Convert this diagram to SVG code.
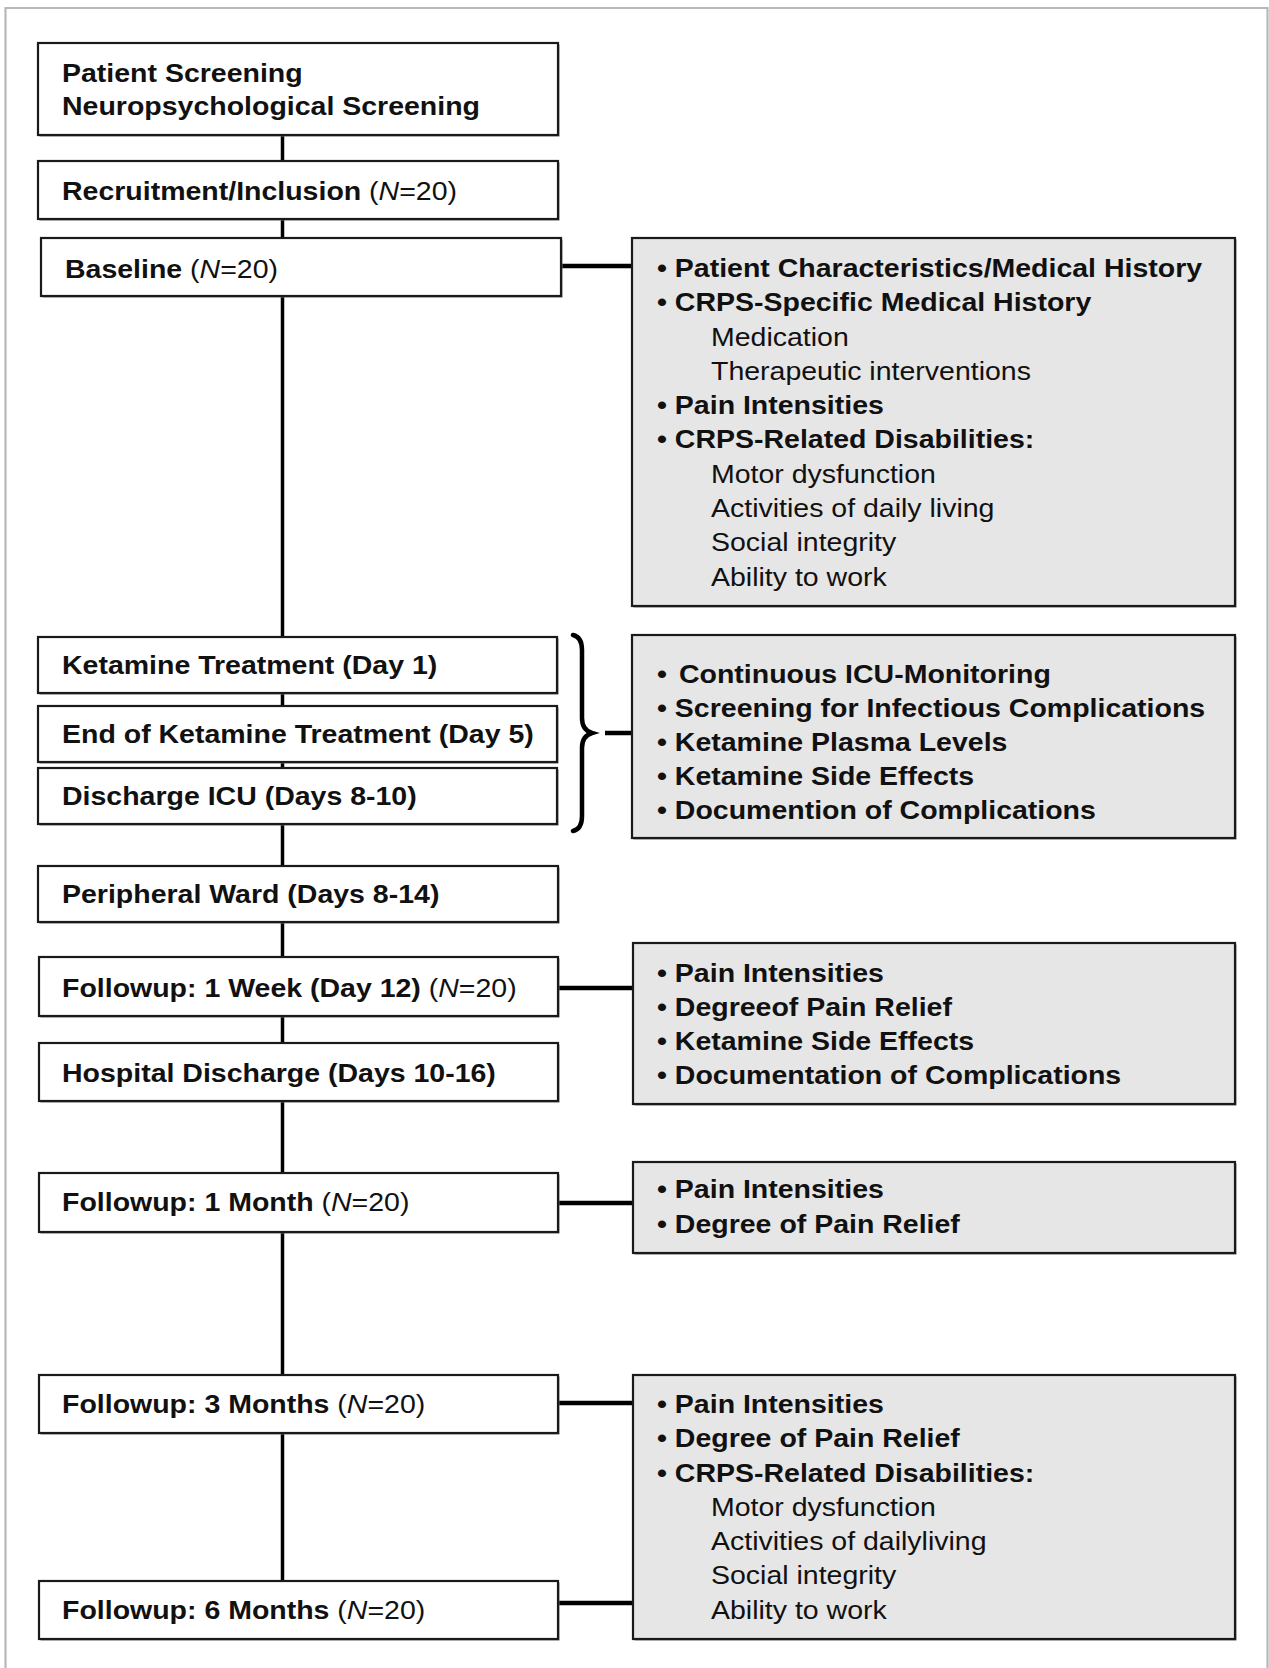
<svg xmlns="http://www.w3.org/2000/svg" width="1269" height="1668" viewBox="0 0 1269 1668">
<defs>
<style>
.t{font-family:"Liberation Sans",Arial,Helvetica,sans-serif;font-size:25px;fill:#111}
.b{font-weight:bold}
.i{font-style:italic}
.box{fill:#fff;stroke:#1a1a1a;stroke-width:2.2}
.gbox{fill:#e6e6e6;stroke:#1a1a1a;stroke-width:2.2}
.sh{fill:#7a7a7a}
.ln{stroke:#000;stroke-width:3.5;fill:none}
.hl{stroke:#000;stroke-width:4.5;fill:none}
</style>
</defs>
<rect width="1269" height="1668" fill="#fff"/>
<path d="M5.5,1668 V8 H1267.5 V1668" fill="none" stroke="#b8b8b8" stroke-width="2.2"/>

<g id="connectors">
<line class="ln" x1="282.5" y1="135" x2="282.5" y2="1581"/>
<line class="hl" x1="561" y1="266" x2="632" y2="266"/>
<path d="M573,635 Q582,637 582,650 L582,718 Q582,730 592,733 Q582,736 582,748 L582,816 Q582,829 573,831" fill="none" stroke="#000" stroke-width="4.5" stroke-linecap="round"/>
<line class="hl" x1="605" y1="733" x2="633" y2="733"/>
<line class="hl" x1="558" y1="988" x2="633" y2="988"/>
<line class="hl" x1="558" y1="1203" x2="633" y2="1203"/>
<line class="hl" x1="558" y1="1403" x2="633" y2="1403"/>
<line class="hl" x1="558" y1="1603" x2="633" y2="1603"/>
</g>

<g id="n-screening"><rect class="sh" x="39.5" y="44.5" width="520" height="92"/><rect class="box" x="38" y="43" width="520" height="92"/>
<g transform="scale(1.14 1)"><text class="t b" x="54.4" y="82">Patient Screening</text><text class="t b" x="54.4" y="115">Neuropsychological Screening</text></g></g>

<g id="n-recruitment"><rect class="sh" x="39.5" y="162.5" width="520" height="58"/><rect class="box" x="38" y="161" width="520" height="58"/>
<g transform="scale(1.14 1)"><text class="t" x="54.4" y="200"><tspan class="b">Recruitment/Inclusion</tspan> (<tspan class="i">N</tspan>=20)</text></g></g>

<g id="n-baseline"><rect class="sh" x="42.5" y="239.5" width="520" height="58"/><rect class="box" x="41" y="238" width="520" height="58"/>
<g transform="scale(1.14 1)"><text class="t" x="57" y="278"><tspan class="b">Baseline</tspan> (<tspan class="i">N</tspan>=20)</text></g></g>

<g id="n-ketamine"><rect class="sh" x="39.5" y="638.5" width="519" height="56"/><rect class="box" x="38" y="637" width="519" height="56"/>
<g transform="scale(1.14 1)"><text class="t b" x="54.4" y="674">Ketamine Treatment (Day 1)</text></g></g>

<g id="n-end-ketamine"><rect class="sh" x="39.5" y="707.5" width="519" height="56"/><rect class="box" x="38" y="706" width="519" height="56"/>
<g transform="scale(1.14 1)"><text class="t b" x="54.4" y="743">End of Ketamine Treatment (Day 5)</text></g></g>

<g id="n-discharge-icu"><rect class="sh" x="39.5" y="769.5" width="519" height="56"/><rect class="box" x="38" y="768" width="519" height="56"/>
<g transform="scale(1.14 1)"><text class="t b" x="54.4" y="805">Discharge ICU (Days 8-10)</text></g></g>

<g id="n-peripheral"><rect class="sh" x="39.5" y="867.5" width="520" height="56"/><rect class="box" x="38" y="866" width="520" height="56"/>
<g transform="scale(1.14 1)"><text class="t b" x="54.4" y="903">Peripheral Ward (Days 8-14)</text></g></g>

<g id="n-fu-1week"><rect class="sh" x="40.5" y="958.5" width="519" height="59"/><rect class="box" x="39" y="957" width="519" height="59"/>
<g transform="scale(1.14 1)"><text class="t" x="54.4" y="997"><tspan class="b">Followup: 1 Week (Day 12)</tspan> (<tspan class="i">N</tspan>=20)</text></g></g>

<g id="n-hospital-discharge"><rect class="sh" x="40.5" y="1044.5" width="519" height="58"/><rect class="box" x="39" y="1043" width="519" height="58"/>
<g transform="scale(1.14 1)"><text class="t b" x="54.4" y="1082">Hospital Discharge (Days 10-16)</text></g></g>

<g id="n-fu-1month"><rect class="sh" x="40.5" y="1174.5" width="519" height="59"/><rect class="box" x="39" y="1173" width="519" height="59"/>
<g transform="scale(1.14 1)"><text class="t" x="54.4" y="1211"><tspan class="b">Followup: 1 Month</tspan> (<tspan class="i">N</tspan>=20)</text></g></g>

<g id="n-fu-3months"><rect class="sh" x="40.5" y="1376.5" width="519" height="58"/><rect class="box" x="39" y="1375" width="519" height="58"/>
<g transform="scale(1.14 1)"><text class="t" x="54.4" y="1413"><tspan class="b">Followup: 3 Months</tspan> (<tspan class="i">N</tspan>=20)</text></g></g>

<g id="n-fu-6months"><rect class="sh" x="40.5" y="1582.5" width="519" height="58"/><rect class="box" x="39" y="1581" width="519" height="58"/>
<g transform="scale(1.14 1)"><text class="t" x="54.4" y="1619"><tspan class="b">Followup: 6 Months</tspan> (<tspan class="i">N</tspan>=20)</text></g></g>

<g id="r-baseline"><rect class="sh" x="633.5" y="239.5" width="603" height="368"/><rect class="gbox" x="632" y="238" width="603" height="368"/>
<g transform="scale(1.14 1)">
<text class="t b" x="576.3" y="277">• Patient Characteristics/Medical History</text>
<text class="t b" x="576.3" y="311.3">• CRPS-Specific Medical History</text>
<text class="t" x="623.7" y="345.6">Medication</text>
<text class="t" x="623.7" y="379.9">Therapeutic interventions</text>
<text class="t b" x="576.3" y="414.2">• Pain Intensities</text>
<text class="t b" x="576.3" y="448.5">• CRPS-Related Disabilities:</text>
<text class="t" x="623.7" y="482.8">Motor dysfunction</text>
<text class="t" x="623.7" y="517.1">Activities of daily living</text>
<text class="t" x="623.7" y="551.4">Social integrity</text>
<text class="t" x="623.7" y="585.7">Ability to work</text>
</g></g>

<g id="r-icu"><rect class="sh" x="633.5" y="636.5" width="603" height="203"/><rect class="gbox" x="632" y="635" width="603" height="203"/>
<g transform="scale(1.14 1)">
<text class="t b" x="576.3" y="683">•<tspan x="595.6">Continuous ICU-Monitoring</tspan></text>
<text class="t b" x="576.3" y="717">• Screening for Infectious Complications</text>
<text class="t b" x="576.3" y="751">• Ketamine Plasma Levels</text>
<text class="t b" x="576.3" y="785">• Ketamine Side Effects</text>
<text class="t b" x="576.3" y="819">• Documention of Complications</text>
</g></g>

<g id="r-1week"><rect class="sh" x="634.5" y="944.5" width="602" height="161"/><rect class="gbox" x="633" y="943" width="602" height="161"/>
<g transform="scale(1.14 1)">
<text class="t b" x="576.3" y="982">• Pain Intensities</text>
<text class="t b" x="576.3" y="1016">• Degreeof Pain Relief</text>
<text class="t b" x="576.3" y="1050">• Ketamine Side Effects</text>
<text class="t b" x="576.3" y="1084">• Documentation of Complications</text>
</g></g>

<g id="r-1month"><rect class="sh" x="634.5" y="1163.5" width="602" height="91"/><rect class="gbox" x="633" y="1162" width="602" height="91"/>
<g transform="scale(1.14 1)">
<text class="t b" x="576.3" y="1198">• Pain Intensities</text>
<text class="t b" x="576.3" y="1233">• Degree of Pain Relief</text>
</g></g>

<g id="r-3-6months"><rect class="sh" x="634.5" y="1376.5" width="602" height="264"/><rect class="gbox" x="633" y="1375" width="602" height="264"/>
<g transform="scale(1.14 1)">
<text class="t b" x="576.3" y="1413">• Pain Intensities</text>
<text class="t b" x="576.3" y="1447.3">• Degree of Pain Relief</text>
<text class="t b" x="576.3" y="1481.6">• CRPS-Related Disabilities:</text>
<text class="t" x="623.7" y="1515.9">Motor dysfunction</text>
<text class="t" x="623.7" y="1550.2">Activities of dailyliving</text>
<text class="t" x="623.7" y="1584.5">Social integrity</text>
<text class="t" x="623.7" y="1618.8">Ability to work</text>
</g></g>
</svg>
